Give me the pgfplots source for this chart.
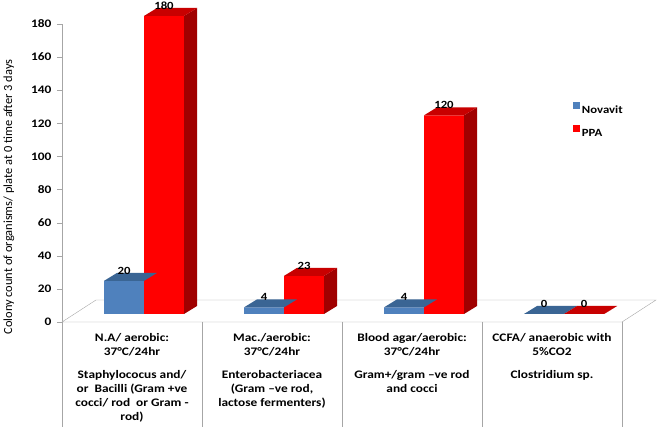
\documentclass[border=0pt]{standalone}
\usepackage{fontspec}
\setmainfont{Carlito}
\newfontfamily\strfont{Carlito}[FakeStretch=1.16]
\usepackage{pgfplots}
\usepackage{pgfplotstable}
\pgfplotsset{compat=1.18}
\definecolor{novfront}{HTML}{4F81BD}
\definecolor{novtop}{HTML}{3A6594}
\definecolor{ppafront}{HTML}{FF0000}
\definecolor{ppatop}{HTML}{C80000}
\definecolor{ppaside}{HTML}{A00000}
\definecolor{linegray}{HTML}{A6A6A6}
\newdimen\barH
\newdimen\barT
\def\setbarH{\pgfkeys{/pgf/fpu=false}\pgfmathsetlength\barH{\val*1.655556pt}\barT=8pt\advance\barT by -\barH}
% top face of the left (Novavit) bar of a pair; its side is hidden by the PPA bar
\pgfdeclareplotmark{novcube}{%
  \pgfsetfillcolor{novtop}%
  \pgfpathmoveto{\pgfqpoint{-40pt}{0pt}}%
  \pgfpathlineto{\pgfqpoint{0pt}{0pt}}%
  \pgfpathlineto{\pgfqpoint{13pt}{8pt}}%
  \pgfpathlineto{\pgfqpoint{-27pt}{8pt}}%
  \pgfpathclose\pgfusepath{fill}%
}
\pgfdeclareplotmark{ppacube}{%
  \setbarH
  \pgfsetfillcolor{ppaside}%
  \pgfpathmoveto{\pgfqpoint{40pt}{0pt}}%
  \pgfpathlineto{\pgfqpoint{53pt}{8pt}}%
  \pgfpathlineto{\pgfqpoint{53pt}{\barT}}%
  \pgfpathlineto{\pgfqpoint{40pt}{-\barH}}%
  \pgfpathclose\pgfusepath{fill}%
  \pgfsetfillcolor{ppatop}%
  \pgfpathmoveto{\pgfqpoint{0pt}{0pt}}%
  \pgfpathlineto{\pgfqpoint{40pt}{0pt}}%
  \pgfpathlineto{\pgfqpoint{53pt}{8pt}}%
  \pgfpathlineto{\pgfqpoint{13pt}{8pt}}%
  \pgfpathclose\pgfusepath{fill}%
}
\pgfplotstableread{
x nov ppa
0.5 20 180
1.5 4 23
2.5 4 120
3.5 0 0
}\data
\begin{document}
\begin{tikzpicture}
\useasboundingbox (0,0) rectangle (660pt,427pt);
\node[rotate=90, font=\fontsize{12.4}{14}\selectfont] at (9pt,230pt) {Colony count of organisms/ plate at 0 time after 3 days};
\begin{axis}[
  at={(62pt,105pt)}, anchor=south west,
  x=140pt, y=1.655556pt,
  xmin=0, xmax=4, ymin=0, ymax=180,
  clip=false,
  axis x line=none,
  axis y line*=left,
  y axis line style={draw=linegray},
  ytick={0,20,...,180},
  tick align=outside,
  major tick length=5pt,
  y tick style={draw=linegray},
  /pgf/number format/assume math mode=true,
  yticklabel style={font=\strfont\bfseries\fontsize{11.5}{13}\selectfont, xshift=-2pt},
  legend style={at={(0.912,0.738)}, anchor=north west, draw=none, fill=none,
    font=\strfont\bfseries\fontsize{11}{13}\selectfont, row sep=10pt, inner sep=0pt,
    nodes={inner xsep=2pt, inner ysep=0pt}},
  legend cell align=left,
]
% floor
\draw[linegray, fill=white] (axis cs:0,0) -- (axis cs:4,0) -- ++(34pt,22pt) -- ++(-560pt,0pt) -- cycle;
% table lines
\draw[linegray] (axis cs:0,0) -- ++(0pt,-105pt);
\draw[linegray] (axis cs:1,0) -- ++(0pt,-105pt);
\draw[linegray] (axis cs:2,0) -- ++(0pt,-105pt);
\draw[linegray] (axis cs:3,0) -- ++(0pt,-105pt);
\draw[linegray] (axis cs:4,0) -- ++(0pt,-105pt);
% Novavit front
\addplot[ybar, bar width=40pt, bar shift=-20pt, fill=novfront, draw=none, xshift=12pt, yshift=8pt,
  legend image code/.code={\fill[novfront] (0pt,-6.5pt) rectangle (7pt,0.5pt);}]
  table[x=x, y=nov]{\data};
\addlegendentry{Novavit}
% Novavit top
\addplot[forget plot, only marks, mark=novcube, xshift=12pt, yshift=8pt,
  nodes near coords,
  every node near coord/.append style={font=\strfont\bfseries\fontsize{11}{13}\selectfont, xshift=-20pt, yshift=3pt, text=black},
  ] table[x=x, y=nov]{\data};
% PPA front
\addplot[ybar, bar width=40pt, bar shift=20pt, fill=ppafront, draw=none, xshift=12pt, yshift=8pt,
  legend image code/.code={\fill[ppafront] (0pt,-6.5pt) rectangle (7pt,0.5pt);}]
  table[x=x, y=ppa]{\data};
\addlegendentry{PPA}
% PPA top/side
\addplot[forget plot, only marks, mark=ppacube, xshift=12pt, yshift=8pt,
  visualization depends on={\thisrow{ppa} \as \val},
  nodes near coords,
  every node near coord/.append style={font=\strfont\bfseries\fontsize{11}{13}\selectfont, xshift=20pt, yshift=3pt, text=black},
  ] table[x=x, y=ppa]{\data};
% cell texts
\node[anchor=north, align=center, inner sep=0pt, font=\strfont\bfseries\fontsize{11.5}{14}\selectfont] at (axis cs:0.5,0) [yshift=-11pt] {N.A/ aerobic:\\37°C/24hr\\[9pt]Staphylococus and/\\or\ \ Bacilli (Gram +ve\\cocci/ rod\ \ or Gram -\\rod)};
\node[anchor=north, align=center, inner sep=0pt, font=\strfont\bfseries\fontsize{11.5}{14}\selectfont] at (axis cs:1.5,0) [yshift=-11pt] {Mac./aerobic:\\37°C/24hr\\[9pt]Enterobacteriacea\\(Gram –ve rod,\\lactose fermenters)};
\node[anchor=north, align=center, inner sep=0pt, font=\strfont\bfseries\fontsize{11.5}{14}\selectfont] at (axis cs:2.5,0) [yshift=-11pt] {Blood agar/aerobic:\\37°C/24hr\\[9pt]Gram+/gram –ve rod\\and cocci};
\node[anchor=north, align=center, inner sep=0pt, font=\strfont\bfseries\fontsize{11.5}{14}\selectfont] at (axis cs:3.5,0) [yshift=-11pt] {CCFA/ anaerobic with\\5\%CO2\\[9pt]Clostridium sp.};
\end{axis}
\end{tikzpicture}
\end{document}
